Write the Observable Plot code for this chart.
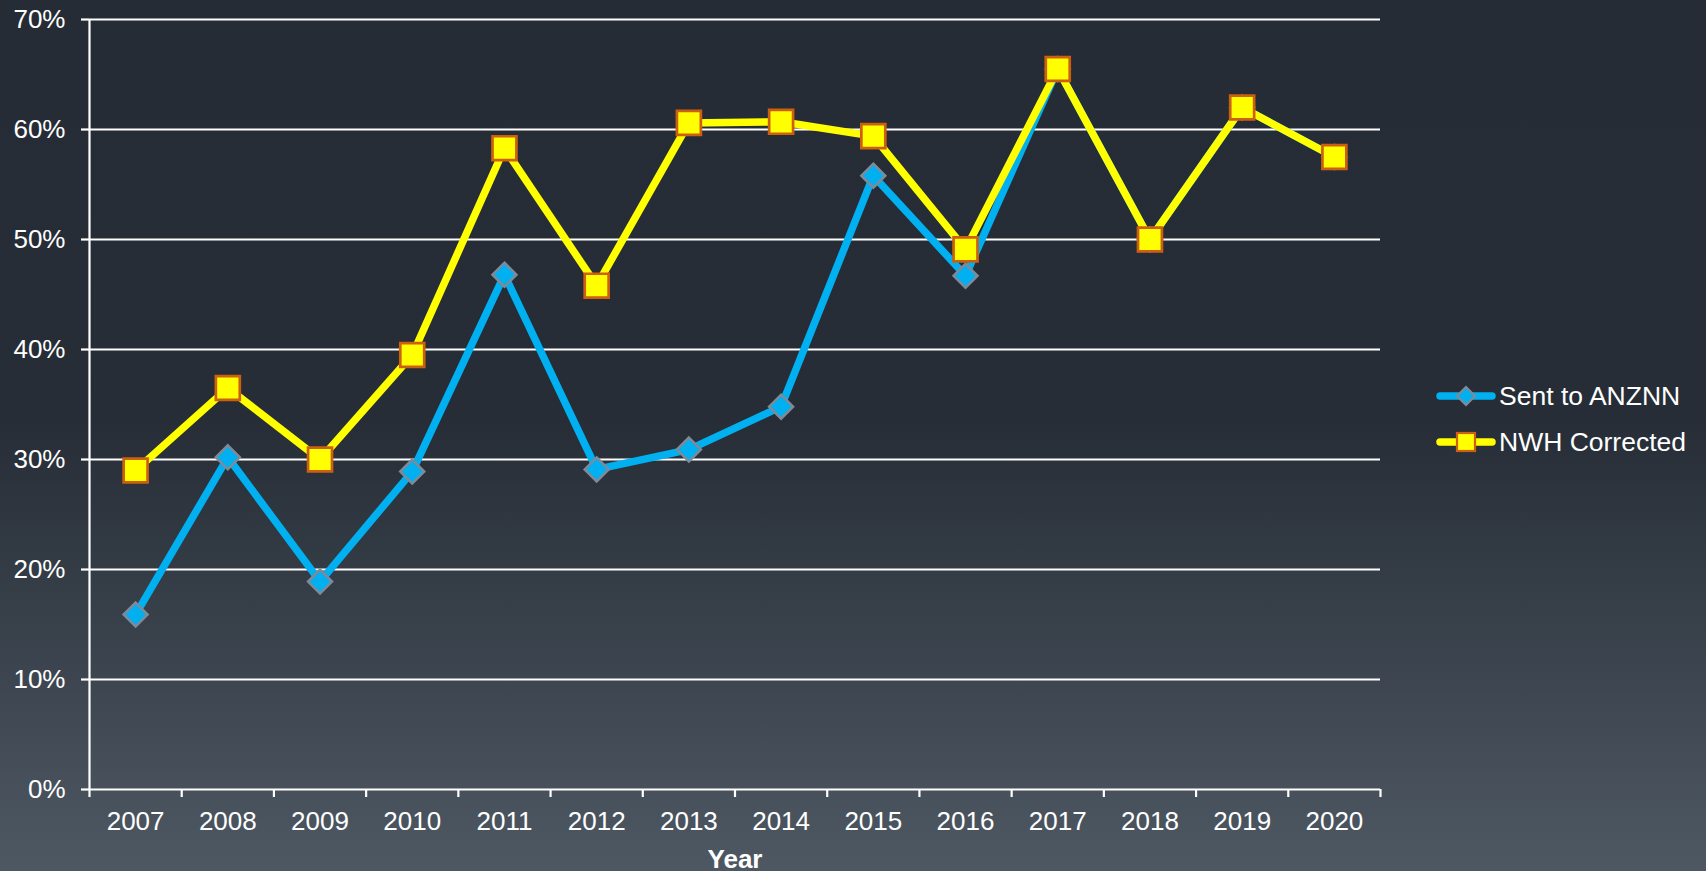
<!DOCTYPE html>
<html>
<head>
<meta charset="utf-8">
<script src="https://cdn.jsdelivr.net/npm/d3@7"></script>
<script src="https://cdn.jsdelivr.net/npm/@observablehq/plot@0.6"></script>
<style>
  html, body { margin: 0; padding: 0; overflow: hidden; }
  #wrap {
    position: relative; width: 1706px; height: 871px;
    background: linear-gradient(to bottom, #252c35 0%, #262d36 48%, #4e5863 100%);
    font-family: "Liberation Sans", Arial, sans-serif;
  }
  #legend { position: absolute; left: 1436px; top: 373px; color: #fff; font-size: 26.5px; }
  .row { display: flex; align-items: center; height: 46px; }
  .row span { margin-left: 3px; }
</style>
</head>
<body>
<div id="wrap"><div id="legend"></div></div>
<script>
// ---- data ----
const years = [2007, 2008, 2009, 2010, 2011, 2012, 2013, 2014, 2015, 2016, 2017, 2018, 2019, 2020];
const sentToANZNN = [15.9, 30.2, 18.9, 28.9, 46.8, 29.1, 30.9, 34.8, 55.8, 46.7, 65.5, 50.0, 62.0, 57.5];
const nwhCorrected = [29.0, 36.5, 30.0, 39.5, 58.3, 45.8, 60.6, 60.7, 59.4, 49.1, 65.5, 50.0, 62.0, 57.5];
const seriesNames = ["Sent to ANZNN", "NWH Corrected"];
const yTicks = [0, 10, 20, 30, 40, 50, 60, 70];
const xLabel = "Year";

// ---- derived tables ----
const sentData = years.map((year, i) => ({ year, value: sentToANZNN[i] }));
const nwhData = years.map((year, i) => ({ year, value: nwhCorrected[i] }));
const bandEdges = [years[0] - 0.5, ...years.map(y => y + 0.5)];

const colors = { blue: "#00b0f0", blueEdge: "#7f8a98", yellow: "#ffff00", yellowEdge: "#cc6010" };
const font = '"Liberation Sans", Arial, sans-serif';

const chart = Plot.plot({
  width: 1706,
  height: 871,
  marginLeft: 89,
  marginRight: 326,
  marginTop: 19,
  marginBottom: 82,
  style: { background: "transparent", fontFamily: font, fontSize: "26px", color: "#fff", overflow: "visible" },
  x: { type: "linear", domain: [years[0] - 0.5, years[years.length - 1] + 0.5], label: null },
  y: { domain: [0, 70], label: null },
  marks: [
    Plot.ruleY(yTicks, { stroke: "#fff", strokeWidth: 2.2 }),
    Plot.ruleX([bandEdges[0]], { stroke: "#fff", strokeWidth: 2.2 }),
    Plot.axisY(yTicks, { tickSize: 8, tickPadding: 16, tickFormat: d => d + "%", color: "#fff", strokeWidth: 2.2, strokeOpacity: 1, fontSize: 26, label: null }),
    Plot.axisX(bandEdges, { tickSize: 8, tickFormat: () => "", color: "#fff", strokeWidth: 2.2, strokeOpacity: 1, label: null }),
    Plot.axisX(years, { tickSize: 0, tickPadding: 22, tickFormat: d => String(d), color: "#fff", fontSize: 26, label: null }),
    Plot.line(sentData, { x: "year", y: "value", stroke: colors.blue, strokeWidth: 7.5, strokeLinejoin: "round" }),
    Plot.dot(sentData, { x: "year", y: "value", symbol: "diamond2", r: 10.8, fill: colors.blue, stroke: colors.blueEdge, strokeWidth: 2.5 }),
    Plot.line(nwhData, { x: "year", y: "value", stroke: colors.yellow, strokeWidth: 7.5, strokeLinejoin: "round" }),
    Plot.dot(nwhData, { x: "year", y: "value", symbol: "square", r: 13.5, fill: colors.yellow, stroke: colors.yellowEdge, strokeWidth: 2.7 }),
    Plot.text([xLabel], { frameAnchor: "bottom", dy: 78, fontWeight: "bold", fontSize: 26, fill: "#fff" })
  ]
});
document.getElementById("wrap").prepend(chart);

// ---- legend ----
const legend = document.getElementById("legend");
const legendItems = [
  { name: seriesNames[0], line: colors.blue, marker: "diamond" },
  { name: seriesNames[1], line: colors.yellow, marker: "square" }
];
legendItems.forEach(item => {
  const row = document.createElement("div");
  row.className = "row";
  const markerSvg = item.marker === "diamond"
    ? `<path d="M30,6 L39,15 L30,24 L21,15 Z" fill="${colors.blue}" stroke="${colors.blueEdge}" stroke-width="2.2"/>`
    : `<rect x="21" y="6" width="18" height="18" fill="${colors.yellow}" stroke="${colors.yellowEdge}" stroke-width="2.2"/>`;
  row.innerHTML = `<svg width="60" height="30"><line x1="4" y1="15" x2="56" y2="15" stroke="${item.line}" stroke-width="7.5" stroke-linecap="round"/>${markerSvg}</svg><span>${item.name}</span>`;
  legend.appendChild(row);
});
</script>
</body>
</html>
